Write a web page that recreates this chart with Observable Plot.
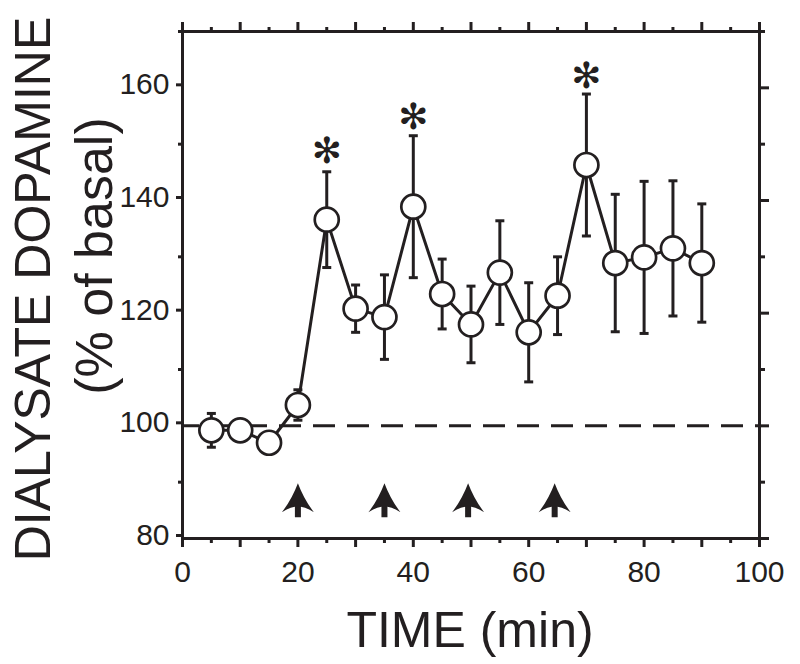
<!DOCTYPE html>
<html>
<head>
<meta charset="utf-8">
<script src="https://cdn.jsdelivr.net/npm/d3@7"></script>
<script src="https://cdn.jsdelivr.net/npm/@observablehq/plot@0.6"></script>
<style>
  html, body { margin: 0; padding: 0; background: #fff; }
  #chart { width: 800px; height: 664px; }
</style>
</head>
<body>
<div id="chart"></div>
<script>
// ---- data ----
const times = [5, 10, 15, 20, 25, 30, 35, 40, 45, 50, 55, 60, 65, 70, 75, 80, 85, 90];
const means = [99.2, 99.2, 97.0, 103.7, 136.6, 120.8, 119.3, 138.9, 123.4, 118.0, 127.2, 116.6, 123.1, 146.3, 128.9, 129.9, 131.5, 128.9];
const sems  = [3.0, 1.0, 1.0, 2.7, 8.5, 4.2, 7.5, 12.6, 6.2, 6.8, 9.2, 8.8, 6.9, 12.6, 12.2, 13.5, 12.0, 10.5];
const starTimes = [25, 40, 70];
const starLevels = [148.7, 154.7, 162.0];
const arrowTimes = [20, 35, 49.5, 64.5];
const arrowLevel = [86.8];
const baseline = [100];
const xTicksMajor = [0, 10, 20, 30, 40, 50, 60, 70, 80, 90, 100];
const xTicksMinor = [5, 15, 25, 35, 45, 55, 65, 75, 85, 95];
const yTicksMajor = [80, 100, 120, 140, 160];
const yTicksMinor = [90, 110, 130, 150, 170];
const xTitle = "TIME (min)";
const yTitle1 = "DIALYSATE DOPAMINE";
const yTitle2 = "(% of basal)";

const ink = "#231f20";
const rows = times.map((t, i) => ({t, m: means[i], lo: means[i] - sems[i], hi: means[i] + sems[i]}));
const stars = starTimes.map((t, i) => ({t, y: starLevels[i]}));
const arrows = arrowTimes.map(t => ({t, y: arrowLevel[0]}));

const capSymbol = { draw(ctx) { ctx.moveTo(-4.5, 0); ctx.lineTo(4.5, 0); } };
const arrowSymbol = {
  draw(ctx) {
    ctx.moveTo(0, -17);
    ctx.quadraticCurveTo(6, -1, 16, 12);
    ctx.quadraticCurveTo(8, 7, 3, 6.5);
    ctx.lineTo(3, 17);
    ctx.lineTo(-3, 17);
    ctx.lineTo(-3, 6.5);
    ctx.quadraticCurveTo(-8, 7, -16, 12);
    ctx.quadraticCurveTo(-6, -1, 0, -17);
    ctx.closePath();
  }
};

const chart = Plot.plot({
  width: 800,
  height: 664,
  marginLeft: 182,
  marginRight: 41,
  marginTop: 31,
  marginBottom: 126,
  style: { fontFamily: "'Liberation Sans', Arial, sans-serif", fontSize: "30px", color: ink, background: "#fff" },
  x: { domain: [0, 100], axis: null },
  y: { domain: [80, 170], axis: null },
  marks: [
    // axes
    Plot.axisX(xTicksMajor, { anchor: "bottom", tickSize: 9, tickPadding: 13, strokeWidth: 3, fontSize: 30, label: null,
      tickFormat: d => (d % 20 === 0 ? String(d) : "") }),
    Plot.axisX(xTicksMinor, { anchor: "bottom", tickSize: 5, strokeWidth: 3, label: null, tickFormat: () => "" }),
    Plot.axisX(xTicksMajor, { anchor: "top", tickSize: 10, strokeWidth: 3, label: null, tickFormat: () => "" }),
    Plot.axisX(xTicksMinor, { anchor: "top", tickSize: 5, strokeWidth: 3, label: null, tickFormat: () => "" }),
    Plot.axisY(yTicksMajor, { anchor: "left", tickSize: 6, tickPadding: 7, strokeWidth: 3, fontSize: 30, label: null, dy: -3,
      tickFormat: d => String(d) }),
    Plot.axisY(yTicksMinor, { anchor: "left", tickSize: 4, strokeWidth: 3, label: null, tickFormat: () => "" }),
    Plot.axisY(yTicksMajor, { anchor: "right", tickSize: 9, strokeWidth: 3, label: null, tickFormat: () => "" }),
    Plot.axisY(yTicksMinor, { anchor: "right", tickSize: 5, strokeWidth: 3, label: null, tickFormat: () => "" }),
    Plot.frame({ stroke: ink, strokeWidth: 3 }),
    // baseline
    Plot.ruleY(baseline, { stroke: ink, strokeWidth: 3, strokeDasharray: "22,12", strokeDashoffset: 5 }),
    // error bars
    Plot.ruleX(rows, { x: "t", y1: "lo", y2: "hi", stroke: ink, strokeWidth: 3 }),
    Plot.dot(rows, { x: "t", y: "hi", symbol: capSymbol, stroke: ink, strokeWidth: 3, r: 5 }),
    Plot.dot(rows, { x: "t", y: "lo", symbol: capSymbol, stroke: ink, strokeWidth: 3, r: 5 }),
    // line + markers
    Plot.line(rows, { x: "t", y: "m", stroke: ink, strokeWidth: 3 }),
    Plot.dot(rows, { x: "t", y: "m", r: 12, fill: "#fff", stroke: ink, strokeWidth: 2.7 }),
    // significance stars
    Plot.text(stars, { x: "t", y: "y", text: () => "\u273B", fontSize: 36, fill: ink, fontFamily: "DejaVu Sans" }),
    // injection arrows
    Plot.dot(arrows, { x: "t", y: "y", symbol: arrowSymbol, fill: ink, stroke: "none", r: 10 })
  ]
});

const svg = d3.select(chart.tagName.toLowerCase() === "svg" ? chart : chart.querySelector("svg"));
svg.append("text")
  .attr("x", 470).attr("y", 647)
  .attr("text-anchor", "middle")
  .attr("fill", ink)
  .style("font-size", "50px")
  .style("font-family", "'Liberation Sans', Arial, sans-serif")
  .text(xTitle);
svg.append("text")
  .attr("transform", "translate(50,289) rotate(-90)")
  .attr("text-anchor", "middle")
  .attr("fill", ink)
  .style("font-size", "50px")
  .style("font-family", "'Liberation Sans', Arial, sans-serif")
  .text(yTitle1);
svg.append("text")
  .attr("transform", "translate(112,256) rotate(-90)")
  .attr("text-anchor", "middle")
  .attr("fill", ink)
  .style("font-size", "52px")
  .style("font-family", "'Liberation Sans', Arial, sans-serif")
  .text(yTitle2);

document.getElementById("chart").appendChild(chart);
</script>
</body>
</html>
